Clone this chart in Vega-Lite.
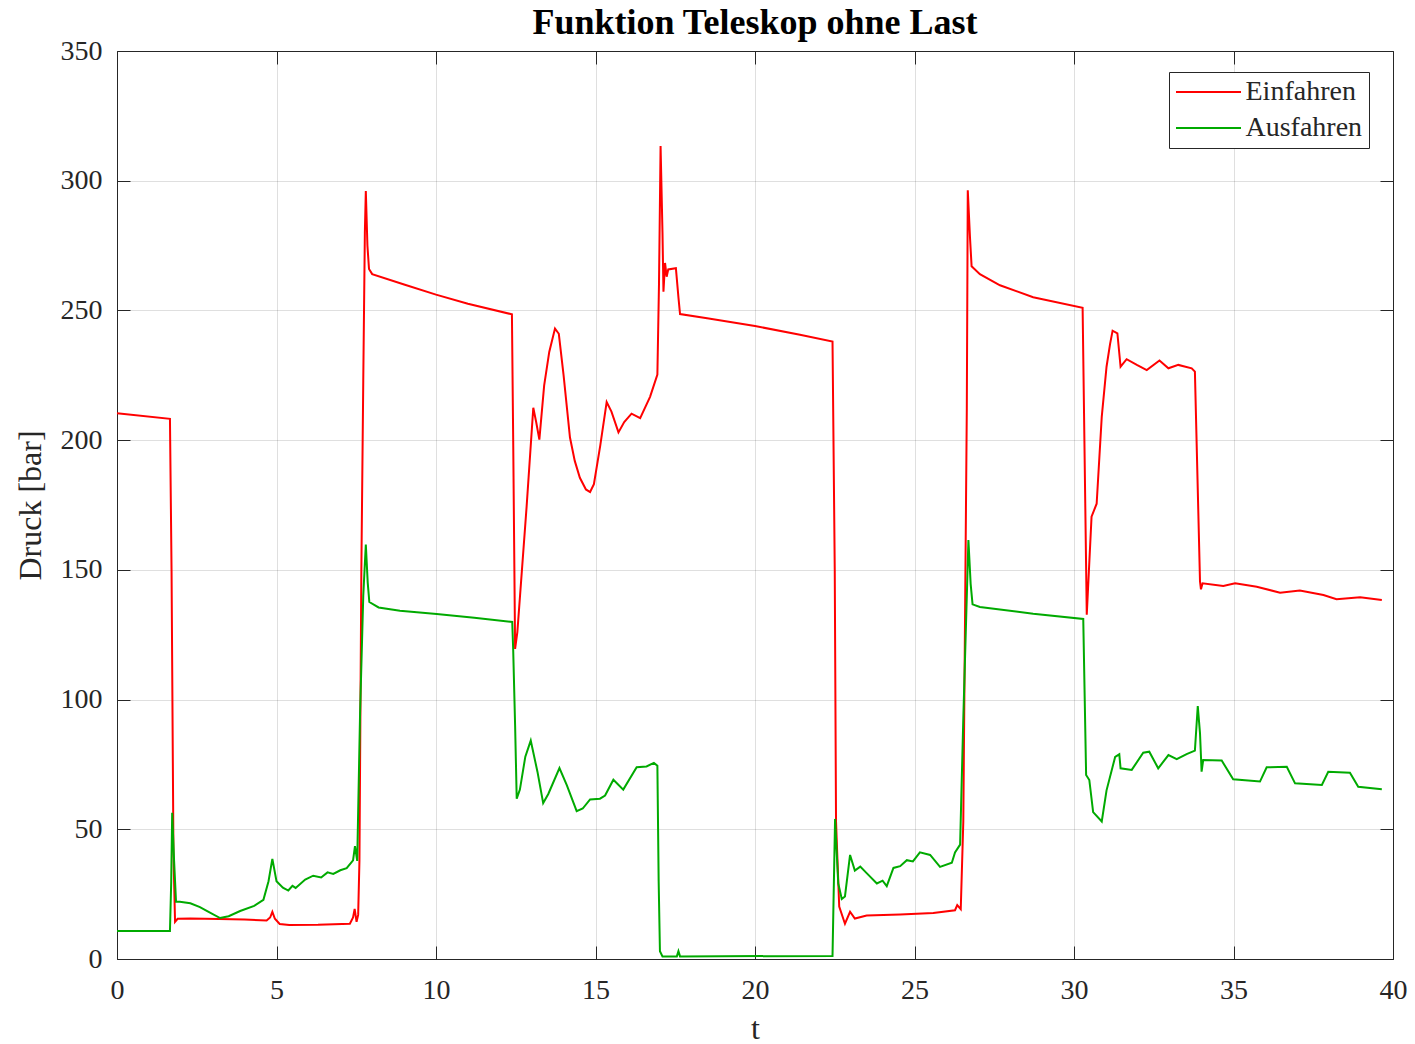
{
"$schema": "https://vega.github.io/schema/vega-lite/v6.json",
"width": 1276, "height": 908,
"autosize": "none",
"padding": {"left": 117, "top": 51, "right": 22, "bottom": 85},
"background": "white",
"view": {"stroke": null},
"title": {"text": "Funktion Teleskop ohne Last", "font": "Liberation Serif", "fontSize": 36, "fontWeight": "bold", "color": "#000000", "anchor": "middle", "frame": "group", "dy": 9},
"config": {
  "axis": {"labelFont": "Liberation Serif", "titleFont": "Liberation Serif", "labelColor": "#262626", "titleColor": "#262626", "labelFontSize": 28, "titleFontSize": 32, "titleFontWeight": "normal", "domainColor": "#262626", "domainWidth": 1, "tickColor": "#262626", "tickWidth": 1, "tickSize": -13, "gridColor": "#262626", "gridOpacity": 0.15, "gridWidth": 1},
  "legend": {"labelFont": "Liberation Serif", "labelFontSize": 28, "labelColor": "#262626"}
},
"data": {"values": [
{"t":0,"p":210.4,"s":"Einfahren"},{"t":1.66,"p":208.2,"s":"Einfahren"},{"t":1.71,"p":150,"s":"Einfahren"},{"t":1.77,"p":40,"s":"Einfahren"},{"t":1.82,"p":14.3,"s":"Einfahren"},{"t":1.9,"p":15.5,"s":"Einfahren"},{"t":2.3,"p":15.6,"s":"Einfahren"},{"t":3.2,"p":15.4,"s":"Einfahren"},{"t":4.0,"p":15.2,"s":"Einfahren"},{"t":4.69,"p":14.8,"s":"Einfahren"},{"t":4.8,"p":16,"s":"Einfahren"},{"t":4.87,"p":18.2,"s":"Einfahren"},{"t":4.95,"p":15.5,"s":"Einfahren"},{"t":5.1,"p":13.5,"s":"Einfahren"},{"t":5.4,"p":13.1,"s":"Einfahren"},{"t":6.3,"p":13.2,"s":"Einfahren"},{"t":7.3,"p":13.6,"s":"Einfahren"},{"t":7.4,"p":16,"s":"Einfahren"},{"t":7.45,"p":19.3,"s":"Einfahren"},{"t":7.51,"p":14.3,"s":"Einfahren"},{"t":7.56,"p":17,"s":"Einfahren"},{"t":7.6,"p":37.8,"s":"Einfahren"},{"t":7.66,"p":150,"s":"Einfahren"},{"t":7.72,"p":223,"s":"Einfahren"},{"t":7.77,"p":280,"s":"Einfahren"},{"t":7.8,"p":296,"s":"Einfahren"},{"t":7.85,"p":275,"s":"Einfahren"},{"t":7.9,"p":266,"s":"Einfahren"},{"t":8.0,"p":264,"s":"Einfahren"},{"t":9.0,"p":260,"s":"Einfahren"},{"t":10.0,"p":256.1,"s":"Einfahren"},{"t":11.0,"p":252.6,"s":"Einfahren"},{"t":12.38,"p":248.5,"s":"Einfahren"},{"t":12.42,"p":200,"s":"Einfahren"},{"t":12.48,"p":119.5,"s":"Einfahren"},{"t":12.55,"p":126,"s":"Einfahren"},{"t":12.84,"p":174.3,"s":"Einfahren"},{"t":13.05,"p":212.5,"s":"Einfahren"},{"t":13.14,"p":207,"s":"Einfahren"},{"t":13.24,"p":200.2,"s":"Einfahren"},{"t":13.39,"p":221,"s":"Einfahren"},{"t":13.55,"p":234,"s":"Einfahren"},{"t":13.73,"p":243,"s":"Einfahren"},{"t":13.85,"p":241,"s":"Einfahren"},{"t":14.0,"p":225,"s":"Einfahren"},{"t":14.2,"p":201,"s":"Einfahren"},{"t":14.35,"p":192,"s":"Einfahren"},{"t":14.51,"p":185.5,"s":"Einfahren"},{"t":14.7,"p":181,"s":"Einfahren"},{"t":14.83,"p":180,"s":"Einfahren"},{"t":14.95,"p":183,"s":"Einfahren"},{"t":15.15,"p":198,"s":"Einfahren"},{"t":15.35,"p":214.7,"s":"Einfahren"},{"t":15.5,"p":211,"s":"Einfahren"},{"t":15.72,"p":203,"s":"Einfahren"},{"t":15.9,"p":207,"s":"Einfahren"},{"t":16.13,"p":210.2,"s":"Einfahren"},{"t":16.4,"p":208.5,"s":"Einfahren"},{"t":16.71,"p":216.7,"s":"Einfahren"},{"t":16.94,"p":225.3,"s":"Einfahren"},{"t":16.99,"p":260,"s":"Einfahren"},{"t":17.04,"p":313.4,"s":"Einfahren"},{"t":17.1,"p":280,"s":"Einfahren"},{"t":17.13,"p":257.2,"s":"Einfahren"},{"t":17.18,"p":268.3,"s":"Einfahren"},{"t":17.23,"p":263,"s":"Einfahren"},{"t":17.28,"p":265.8,"s":"Einfahren"},{"t":17.52,"p":266.3,"s":"Einfahren"},{"t":17.6,"p":255,"s":"Einfahren"},{"t":17.65,"p":248.6,"s":"Einfahren"},{"t":18.5,"p":247,"s":"Einfahren"},{"t":20,"p":244,"s":"Einfahren"},{"t":21.41,"p":240.6,"s":"Einfahren"},{"t":22.43,"p":238,"s":"Einfahren"},{"t":22.5,"p":150,"s":"Einfahren"},{"t":22.54,"p":53,"s":"Einfahren"},{"t":22.64,"p":20.2,"s":"Einfahren"},{"t":22.82,"p":13.6,"s":"Einfahren"},{"t":22.98,"p":18.2,"s":"Einfahren"},{"t":23.13,"p":15.6,"s":"Einfahren"},{"t":23.5,"p":16.8,"s":"Einfahren"},{"t":24.55,"p":17.2,"s":"Einfahren"},{"t":25.59,"p":17.7,"s":"Einfahren"},{"t":26.27,"p":18.8,"s":"Einfahren"},{"t":26.34,"p":20.8,"s":"Einfahren"},{"t":26.45,"p":19.2,"s":"Einfahren"},{"t":26.53,"p":53,"s":"Einfahren"},{"t":26.64,"p":212.3,"s":"Einfahren"},{"t":26.67,"p":296.3,"s":"Einfahren"},{"t":26.74,"p":278,"s":"Einfahren"},{"t":26.79,"p":267,"s":"Einfahren"},{"t":27.05,"p":264,"s":"Einfahren"},{"t":27.68,"p":259.7,"s":"Einfahren"},{"t":28.72,"p":255.1,"s":"Einfahren"},{"t":30.27,"p":251,"s":"Einfahren"},{"t":30.4,"p":132.7,"s":"Einfahren"},{"t":30.55,"p":170.5,"s":"Einfahren"},{"t":30.71,"p":175.5,"s":"Einfahren"},{"t":30.87,"p":209,"s":"Einfahren"},{"t":31.02,"p":228.3,"s":"Einfahren"},{"t":31.13,"p":237,"s":"Einfahren"},{"t":31.21,"p":242.2,"s":"Einfahren"},{"t":31.36,"p":241.2,"s":"Einfahren"},{"t":31.46,"p":228.3,"s":"Einfahren"},{"t":31.65,"p":231.2,"s":"Einfahren"},{"t":31.97,"p":229,"s":"Einfahren"},{"t":32.28,"p":227,"s":"Einfahren"},{"t":32.68,"p":230.7,"s":"Einfahren"},{"t":32.96,"p":227.7,"s":"Einfahren"},{"t":33.27,"p":229,"s":"Einfahren"},{"t":33.69,"p":227.7,"s":"Einfahren"},{"t":33.79,"p":226.4,"s":"Einfahren"},{"t":33.95,"p":145.5,"s":"Einfahren"},{"t":33.98,"p":142.5,"s":"Einfahren"},{"t":34.03,"p":144.8,"s":"Einfahren"},{"t":34.68,"p":143.8,"s":"Einfahren"},{"t":35.05,"p":144.8,"s":"Einfahren"},{"t":35.73,"p":143.5,"s":"Einfahren"},{"t":36.46,"p":141.2,"s":"Einfahren"},{"t":37.08,"p":142,"s":"Einfahren"},{"t":37.82,"p":140.3,"s":"Einfahren"},{"t":38.23,"p":138.7,"s":"Einfahren"},{"t":38.97,"p":139.4,"s":"Einfahren"},{"t":39.65,"p":138.4,"s":"Einfahren"},
{"t":0,"p":10.8,"s":"Ausfahren"},{"t":1.66,"p":10.8,"s":"Ausfahren"},{"t":1.7,"p":30,"s":"Ausfahren"},{"t":1.73,"p":56.4,"s":"Ausfahren"},{"t":1.79,"p":37.8,"s":"Ausfahren"},{"t":1.85,"p":22.1,"s":"Ausfahren"},{"t":1.97,"p":22.1,"s":"Ausfahren"},{"t":2.3,"p":21.5,"s":"Ausfahren"},{"t":2.6,"p":20,"s":"Ausfahren"},{"t":2.9,"p":18,"s":"Ausfahren"},{"t":3.23,"p":15.8,"s":"Ausfahren"},{"t":3.5,"p":16.5,"s":"Ausfahren"},{"t":3.86,"p":18.5,"s":"Ausfahren"},{"t":4.3,"p":20.5,"s":"Ausfahren"},{"t":4.59,"p":22.8,"s":"Ausfahren"},{"t":4.75,"p":30,"s":"Ausfahren"},{"t":4.87,"p":38.6,"s":"Ausfahren"},{"t":5.0,"p":30,"s":"Ausfahren"},{"t":5.2,"p":27.5,"s":"Ausfahren"},{"t":5.37,"p":26.4,"s":"Ausfahren"},{"t":5.5,"p":28.2,"s":"Ausfahren"},{"t":5.6,"p":27.4,"s":"Ausfahren"},{"t":5.9,"p":30.6,"s":"Ausfahren"},{"t":6.15,"p":32.1,"s":"Ausfahren"},{"t":6.4,"p":31.4,"s":"Ausfahren"},{"t":6.6,"p":33.4,"s":"Ausfahren"},{"t":6.78,"p":32.8,"s":"Ausfahren"},{"t":7.0,"p":34.2,"s":"Ausfahren"},{"t":7.2,"p":35,"s":"Ausfahren"},{"t":7.4,"p":38,"s":"Ausfahren"},{"t":7.46,"p":43.5,"s":"Ausfahren"},{"t":7.53,"p":37.8,"s":"Ausfahren"},{"t":7.62,"p":94.8,"s":"Ausfahren"},{"t":7.72,"p":140,"s":"Ausfahren"},{"t":7.8,"p":159.8,"s":"Ausfahren"},{"t":7.86,"p":145,"s":"Ausfahren"},{"t":7.91,"p":137.6,"s":"Ausfahren"},{"t":8.2,"p":135.5,"s":"Ausfahren"},{"t":8.87,"p":134.2,"s":"Ausfahren"},{"t":10.02,"p":133,"s":"Ausfahren"},{"t":11.2,"p":131.5,"s":"Ausfahren"},{"t":12.39,"p":129.9,"s":"Ausfahren"},{"t":12.42,"p":119.1,"s":"Ausfahren"},{"t":12.48,"p":90,"s":"Ausfahren"},{"t":12.53,"p":61.8,"s":"Ausfahren"},{"t":12.63,"p":65.3,"s":"Ausfahren"},{"t":12.8,"p":78,"s":"Ausfahren"},{"t":12.97,"p":84.2,"s":"Ausfahren"},{"t":13.18,"p":72.2,"s":"Ausfahren"},{"t":13.36,"p":60.1,"s":"Ausfahren"},{"t":13.52,"p":63.6,"s":"Ausfahren"},{"t":13.87,"p":73.6,"s":"Ausfahren"},{"t":14.1,"p":67,"s":"Ausfahren"},{"t":14.41,"p":57,"s":"Ausfahren"},{"t":14.6,"p":58,"s":"Ausfahren"},{"t":14.83,"p":61.5,"s":"Ausfahren"},{"t":15.14,"p":61.8,"s":"Ausfahren"},{"t":15.3,"p":63,"s":"Ausfahren"},{"t":15.56,"p":69.1,"s":"Ausfahren"},{"t":15.87,"p":65.3,"s":"Ausfahren"},{"t":16.29,"p":73.9,"s":"Ausfahren"},{"t":16.6,"p":74.2,"s":"Ausfahren"},{"t":16.83,"p":75.6,"s":"Ausfahren"},{"t":16.94,"p":74.5,"s":"Ausfahren"},{"t":16.98,"p":30,"s":"Ausfahren"},{"t":17.02,"p":3,"s":"Ausfahren"},{"t":17.1,"p":1,"s":"Ausfahren"},{"t":17.55,"p":1,"s":"Ausfahren"},{"t":17.6,"p":3,"s":"Ausfahren"},{"t":17.65,"p":1,"s":"Ausfahren"},{"t":22.43,"p":1.2,"s":"Ausfahren"},{"t":22.51,"p":54,"s":"Ausfahren"},{"t":22.61,"p":29.1,"s":"Ausfahren"},{"t":22.72,"p":23.1,"s":"Ausfahren"},{"t":22.82,"p":24.1,"s":"Ausfahren"},{"t":22.98,"p":40.1,"s":"Ausfahren"},{"t":23.13,"p":34.1,"s":"Ausfahren"},{"t":23.3,"p":35.6,"s":"Ausfahren"},{"t":23.5,"p":33.1,"s":"Ausfahren"},{"t":23.82,"p":29.1,"s":"Ausfahren"},{"t":24.0,"p":30.2,"s":"Ausfahren"},{"t":24.13,"p":28.1,"s":"Ausfahren"},{"t":24.34,"p":35.1,"s":"Ausfahren"},{"t":24.55,"p":35.8,"s":"Ausfahren"},{"t":24.76,"p":38.1,"s":"Ausfahren"},{"t":24.95,"p":37.6,"s":"Ausfahren"},{"t":25.17,"p":41.1,"s":"Ausfahren"},{"t":25.49,"p":40.1,"s":"Ausfahren"},{"t":25.8,"p":35.5,"s":"Ausfahren"},{"t":26.17,"p":37.1,"s":"Ausfahren"},{"t":26.27,"p":41.1,"s":"Ausfahren"},{"t":26.43,"p":44.1,"s":"Ausfahren"},{"t":26.53,"p":92.8,"s":"Ausfahren"},{"t":26.69,"p":161.5,"s":"Ausfahren"},{"t":26.76,"p":144.6,"s":"Ausfahren"},{"t":26.82,"p":136.7,"s":"Ausfahren"},{"t":27.05,"p":135.7,"s":"Ausfahren"},{"t":28.72,"p":133.1,"s":"Ausfahren"},{"t":30.29,"p":131.1,"s":"Ausfahren"},{"t":30.38,"p":70.9,"s":"Ausfahren"},{"t":30.48,"p":69,"s":"Ausfahren"},{"t":30.6,"p":56.6,"s":"Ausfahren"},{"t":30.87,"p":53,"s":"Ausfahren"},{"t":31.02,"p":65,"s":"Ausfahren"},{"t":31.29,"p":77.9,"s":"Ausfahren"},{"t":31.42,"p":78.9,"s":"Ausfahren"},{"t":31.46,"p":73.5,"s":"Ausfahren"},{"t":31.81,"p":72.9,"s":"Ausfahren"},{"t":32.17,"p":79.5,"s":"Ausfahren"},{"t":32.36,"p":79.9,"s":"Ausfahren"},{"t":32.64,"p":73.5,"s":"Ausfahren"},{"t":32.96,"p":78.6,"s":"Ausfahren"},{"t":33.22,"p":77,"s":"Ausfahren"},{"t":33.53,"p":79,"s":"Ausfahren"},{"t":33.79,"p":80.3,"s":"Ausfahren"},{"t":33.88,"p":97.5,"s":"Ausfahren"},{"t":33.95,"p":87,"s":"Ausfahren"},{"t":34.0,"p":72.2,"s":"Ausfahren"},{"t":34.05,"p":76.7,"s":"Ausfahren"},{"t":34.63,"p":76.5,"s":"Ausfahren"},{"t":34.99,"p":69.3,"s":"Ausfahren"},{"t":35.83,"p":68.4,"s":"Ausfahren"},{"t":36.04,"p":73.9,"s":"Ausfahren"},{"t":36.67,"p":74.1,"s":"Ausfahren"},{"t":36.93,"p":67.7,"s":"Ausfahren"},{"t":37.77,"p":67.1,"s":"Ausfahren"},{"t":37.97,"p":72.2,"s":"Ausfahren"},{"t":38.65,"p":71.8,"s":"Ausfahren"},{"t":38.91,"p":66.4,"s":"Ausfahren"},{"t":39.65,"p":65.4,"s":"Ausfahren"}
]},
"layer": [
  {"mark": {"type": "line", "strokeWidth": 2},
   "encoding": {
     "x": {"field": "t", "type": "quantitative", "scale": {"domain": [0, 40], "nice": false},
           "axis": {"orient": "bottom", "values": [0,5,10,15,20,25,30,35,40], "title": "t", "labelPadding": 30, "titlePadding": 9, "labelFlush": false}},
     "y": {"field": "p", "type": "quantitative", "scale": {"domain": [0, 350], "nice": false},
           "axis": {"orient": "left", "values": [0,50,100,150,200,250,300,350], "title": "Druck [bar]", "labelPadding": 28, "titlePadding": 13, "labelFlush": false}},
     "color": {"field": "s", "type": "nominal", "sort": null,
               "scale": {"domain": ["Einfahren", "Ausfahren"], "range": ["#ff0000", "#00aa00"]},
               "legend": {"title": null, "orient": "none", "legendX": 1052, "legendY": 21, "direction": "vertical",
                          "fillColor": "white", "strokeColor": "#262626", "padding": 6, "rowPadding": 8,
                          "symbolType": "M-2.5,0H2.5", "symbolSize": 676, "symbolStrokeWidth": 2, "symbolOffset": 19.5, "labelOffset": 23}}
   }},
  {"mark": {"type": "point", "opacity": 0},
   "encoding": {
     "x": {"field": "t", "type": "quantitative", "scale": {"domain": [0, 40], "nice": false},
           "axis": {"orient": "top", "values": [0,5,10,15,20,25,30,35,40], "labels": false, "grid": false, "title": null}},
     "y": {"field": "p", "type": "quantitative", "scale": {"domain": [0, 350], "nice": false},
           "axis": {"orient": "right", "values": [0,50,100,150,200,250,300,350], "labels": false, "grid": false, "title": null}}
   }}
],
"resolve": {"axis": {"x": "independent", "y": "independent"}}
}
